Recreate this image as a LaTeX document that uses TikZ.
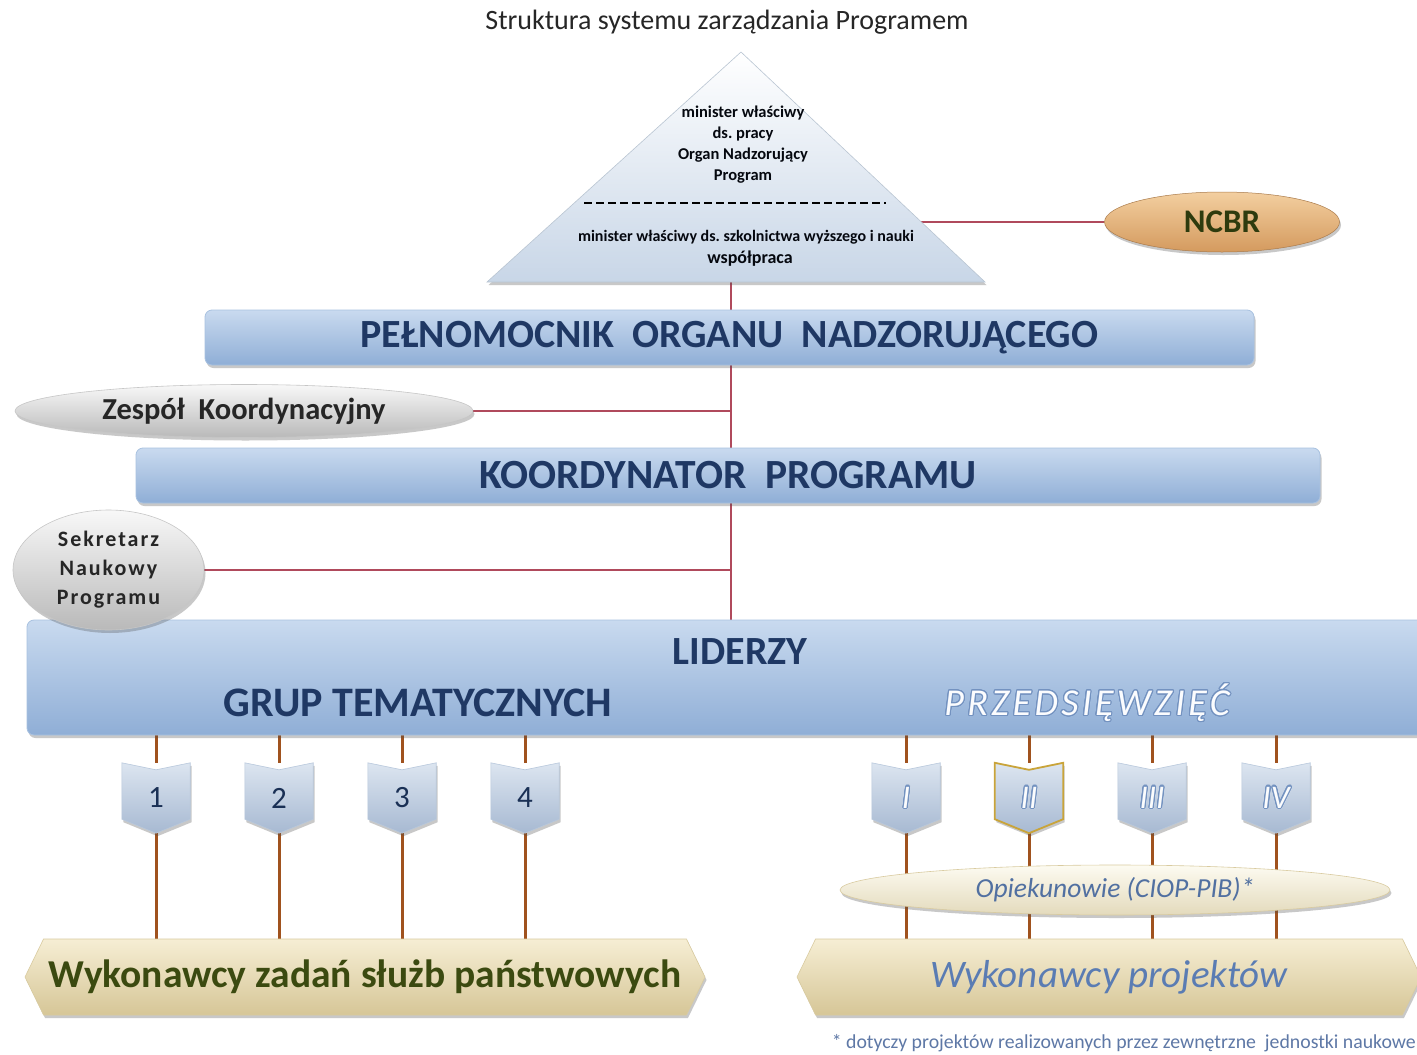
\documentclass[tikz,border=0pt]{standalone}
\usepackage{fontspec}
\setmainfont{Carlito}
\usepackage[copies]{contour}
\usetikzlibrary{shapes.geometric,shapes.symbols,shadows}

\definecolor{navy}{HTML}{1F3864}
\definecolor{barTop}{HTML}{C9DAEF}
\definecolor{barBot}{HTML}{8FAED6}
\definecolor{barEdge}{HTML}{A9C2E0}
\definecolor{wireRed}{HTML}{B04A5C}
\definecolor{stemBrown}{HTML}{A0521E}
\definecolor{chevTop}{HTML}{DCE5F0}
\definecolor{chevBot}{HTML}{A7B9D2}
\definecolor{chevEdge}{HTML}{B8C8DC}
\definecolor{chevGold}{HTML}{C9A43A}
\definecolor{ncbrTop}{HTML}{F3CFA0}
\definecolor{ncbrBot}{HTML}{D49A5E}
\definecolor{ncbrText}{HTML}{2E3B0E}
\definecolor{grayTop}{HTML}{F8F8F8}
\definecolor{grayBot}{HTML}{B9B9B9}
\definecolor{sandTop}{HTML}{F6EED4}
\definecolor{sandBot}{HTML}{D6C697}
\definecolor{sandEdge}{HTML}{D9CBA0}
\definecolor{creamTop}{HTML}{FDFBF1}
\definecolor{creamBot}{HTML}{E3DABC}
\definecolor{olive}{HTML}{3B4A10}
\definecolor{projBlue}{HTML}{5A7CB3}
\definecolor{noteBlue}{HTML}{5E78A6}
\definecolor{pyrTop}{HTML}{FFFFFF}
\definecolor{pyrBot}{HTML}{C8D6E7}
\definecolor{outlineBlue}{HTML}{7392C0}

\pgfdeclarelayer{bg}
\pgfdeclarelayer{background}
\pgfdeclarelayer{shapes}
\pgfsetlayers{bg,background,shapes,main}

\contourlength{1.1pt}
\contournumber{24}

% chevron outline drawn behind a named label box
\newcommand{\chevron}[2][]{%
  \begin{pgfonlayer}{shapes}
    \path[chevfill,#1] (#2.north west) -- ([yshift=-7pt]#2.north) -- (#2.north east)
      -- ([yshift=14pt]#2.south east) -- (#2.south) -- ([yshift=14pt]#2.south west) -- cycle;
  \end{pgfonlayer}}

\begin{document}
\begin{tikzpicture}[x=1pt,y=-1pt,
  every node/.style={inner sep=0pt},
  softshadow/.style={drop shadow={shadow xshift=1.5pt,shadow yshift=-3pt,opacity=0.3,fill=black!70}},
  bar/.style={rectangle,rounded corners=7pt,draw=barEdge,line width=0.8pt,
    top color=barTop,bottom color=barBot,softshadow},
  bartext/.style={font=\bfseries\fontsize{40}{48}\selectfont,text=navy},
  wire/.style={draw=wireRed,line width=1.3pt},
  stem/.style={draw=stemBrown,line width=3pt},
  chevbox/.style={rectangle,minimum width=68pt,minimum height=70pt,text=navy!85!black,
    font=\fontsize{31}{36}\selectfont},
  chevfill/.style={top color=chevTop,bottom color=chevBot,draw=chevEdge,line width=0.6pt,softshadow},
  roman/.style={font=\itshape\fontsize{33}{40}\selectfont,text=white!90!chevTop},
  grayoval/.style={ellipse,top color=grayTop,bottom color=grayBot,draw=gray!45,
    line width=0.6pt,softshadow,text=black!85},
  ncbrstyle/.style={ellipse,top color=ncbrTop,bottom color=ncbrBot,draw=ncbrBot!80!black,
    line width=0.5pt,softshadow,text=ncbrText,font=\bfseries\fontsize{33}{40}\selectfont},
  creamoval/.style={ellipse,top color=creamTop,bottom color=creamBot,draw=sandEdge,
    line width=0.6pt,softshadow,text=projBlue!90!black,font=\itshape\fontsize{27.5}{33}\selectfont},
  worker/.style={signal,signal to=east and west,signal pointer angle=128,
    top color=sandTop,bottom color=sandBot,draw=sandEdge,line width=0.6pt,softshadow,
    minimum height=76pt},
  pyramid/.style={top color=pyrTop,bottom color=pyrBot,draw=pyrBot!80!gray,line width=0.6pt,softshadow},
  pyrtext/.style={font=\bfseries\fontsize{16.5}{21}\selectfont,text=black!85!navy,align=center}
]
\useasboundingbox (0,0) rectangle (1417,1055);
\clip (0,0) rectangle (1417,1055);
\begin{pgfonlayer}{bg}
  \fill[white] (0,0) rectangle (1417,1055);
\end{pgfonlayer}

% heading
\node[font=\fontsize{28}{33}\selectfont,text=black!85] (title) at (727,22)
  {Struktura systemu zarządzania Programem};

% supervising body: the pyramid
\coordinate (apex) at (741,52);
\coordinate (triL) at (487,282);
\coordinate (triR) at (985,282);
\path[pyramid] (triL) -- (apex) -- (triR) -- cycle;
\coordinate (triBase) at (731,282);
\coordinate (triSide) at (921,222);
\coordinate (spine) at (731,282);

\node[pyrtext] (organ) at (743,145)
  {minister właściwy\\ds.\ pracy\\Organ Nadzorujący\\Program};
\coordinate (dashA) at (584,203);
\coordinate (dashB) at (886,203);
\draw[line width=2.6pt,dash pattern=on 8pt off 4pt] (dashA) -- (dashB);
\node[font=\bfseries\fontsize{16}{19}\selectfont,text=black!85!navy] (minsci) at (746,237)
  {minister właściwy ds.\ szkolnictwa wyższego i nauki};
\node[font=\bfseries\fontsize{18}{22}\selectfont,text=black!85!navy] (coop) at (750,259)
  {współpraca};

% NCBR
\node[ncbrstyle,minimum width=235pt,minimum height=60pt] (ncbr) at (1222,222) {NCBR};

% management bars and side bodies
\node[bar,bartext,minimum width=1049pt,minimum height=55pt] (pel) at (729.5,337.5)
  {PEŁNOMOCNIK\ \ ORGANU\ \ NADZORUJĄCEGO};
\node[grayoval,minimum width=458pt,minimum height=53pt,
  font=\bfseries\fontsize{30.5}{36}\selectfont] (zesp) at (244,411)
  {Zespół\ \ Koordynacyjny};
\node[bar,bartext,font=\bfseries\fontsize{41.5}{48}\selectfont,minimum width=1184pt,minimum height=55pt] (koord) at (728,475.5)
  {KOORDYNATOR\ \ PROGRAMU};

% leaders
\node[bar,minimum width=1420pt,minimum height=115pt] (lid) at (737,677.5) {};
\node[bartext] (lidA) at (740,652) {LIDERZY};
\node[bartext,font=\bfseries\fontsize{42}{48}\selectfont] (lidB) at (418,703) {GRUP TEMATYCZNYCH};
\node[font=\itshape\fontsize{38}{46}\selectfont\addfontfeature{LetterSpace=9},text=white!92!barTop] (lidC) at (1087,703)
  {\contour{outlineBlue}{PRZEDSIĘWZIĘĆ}};

\node[grayoval,minimum width=191pt,minimum height=120pt,align=center,
  font=\bfseries\fontsize{22}{29}\selectfont\addfontfeature{LetterSpace=9}] (sekr) at (108.5,570)
  {Sekretarz\\Naukowy\\Programu};

% thematic groups
\node[chevbox] (g1) at (156,798) {1};
\node[chevbox] (g2) at (279,798) {2};
\node[chevbox] (g3) at (402,798) {3};
\node[chevbox] (g4) at (525,798) {4};
\chevron{g1}\chevron{g2}\chevron{g3}\chevron{g4}

% undertakings
\node[chevbox,roman] (p1) at (906,798) {\contour{outlineBlue}{I}};
\node[chevbox,roman] (p2) at (1029,798) {\contour{outlineBlue}{II}};
\node[chevbox,roman] (p3) at (1152,798) {\contour{outlineBlue}{III}};
\node[chevbox,roman] (p4) at (1276,798) {\contour{outlineBlue}{IV}};
\chevron{p1}\chevron[draw=chevGold,line width=1.8pt]{p2}\chevron{p3}\chevron{p4}

% executors
\node[worker,minimum width=680pt,text=olive,font=\bfseries\fontsize{39.5}{46}\selectfont] (wz) at (365,977)
  {Wykonawcy zadań służb państwowych};
\node[worker,minimum width=624pt,text=projBlue,font=\itshape\fontsize{39}{46}\selectfont] (wp) at (1109,977)
  {Wykonawcy projektów};
\node[creamoval,minimum width=550pt,minimum height=50pt] (opiek) at (1115,890)
  {Opiekunowie (CIOP-PIB)*};

% footnote
\node[anchor=east,font=\fontsize{19.8}{24}\selectfont,text=noteBlue] (note) at (1416,1043)
  {* dotyczy projektów realizowanych przez zewnętrzne\ \ jednostki naukowe};

% connectors
\begin{pgfonlayer}{background}
  \draw[wire] (triBase) -- (spine |- pel.north);
  \draw[wire] (triSide) -- (ncbr.west);
  \draw[wire] (spine |- pel.south) -- (spine |- koord.north);
  \draw[wire] (zesp.east) -- (spine |- zesp.east);
  \draw[wire] (spine |- koord.south) -- (spine |- lid.north);
  \draw[wire] (sekr.east) -- (spine |- sekr.east);
  \foreach \g in {g1,g2,g3,g4}{
    \draw[stem] (lid.south -| \g) -- (\g.north);
    \draw[stem] (\g.south) -- (wz.north -| \g);
  }
  \foreach \p in {p1,p2,p3,p4}{
    \draw[stem] (lid.south -| \p) -- (\p.north);
    \draw[stem] (\p.south) -- (wp.north -| \p);
  }
\end{pgfonlayer}
\end{tikzpicture}
\end{document}
